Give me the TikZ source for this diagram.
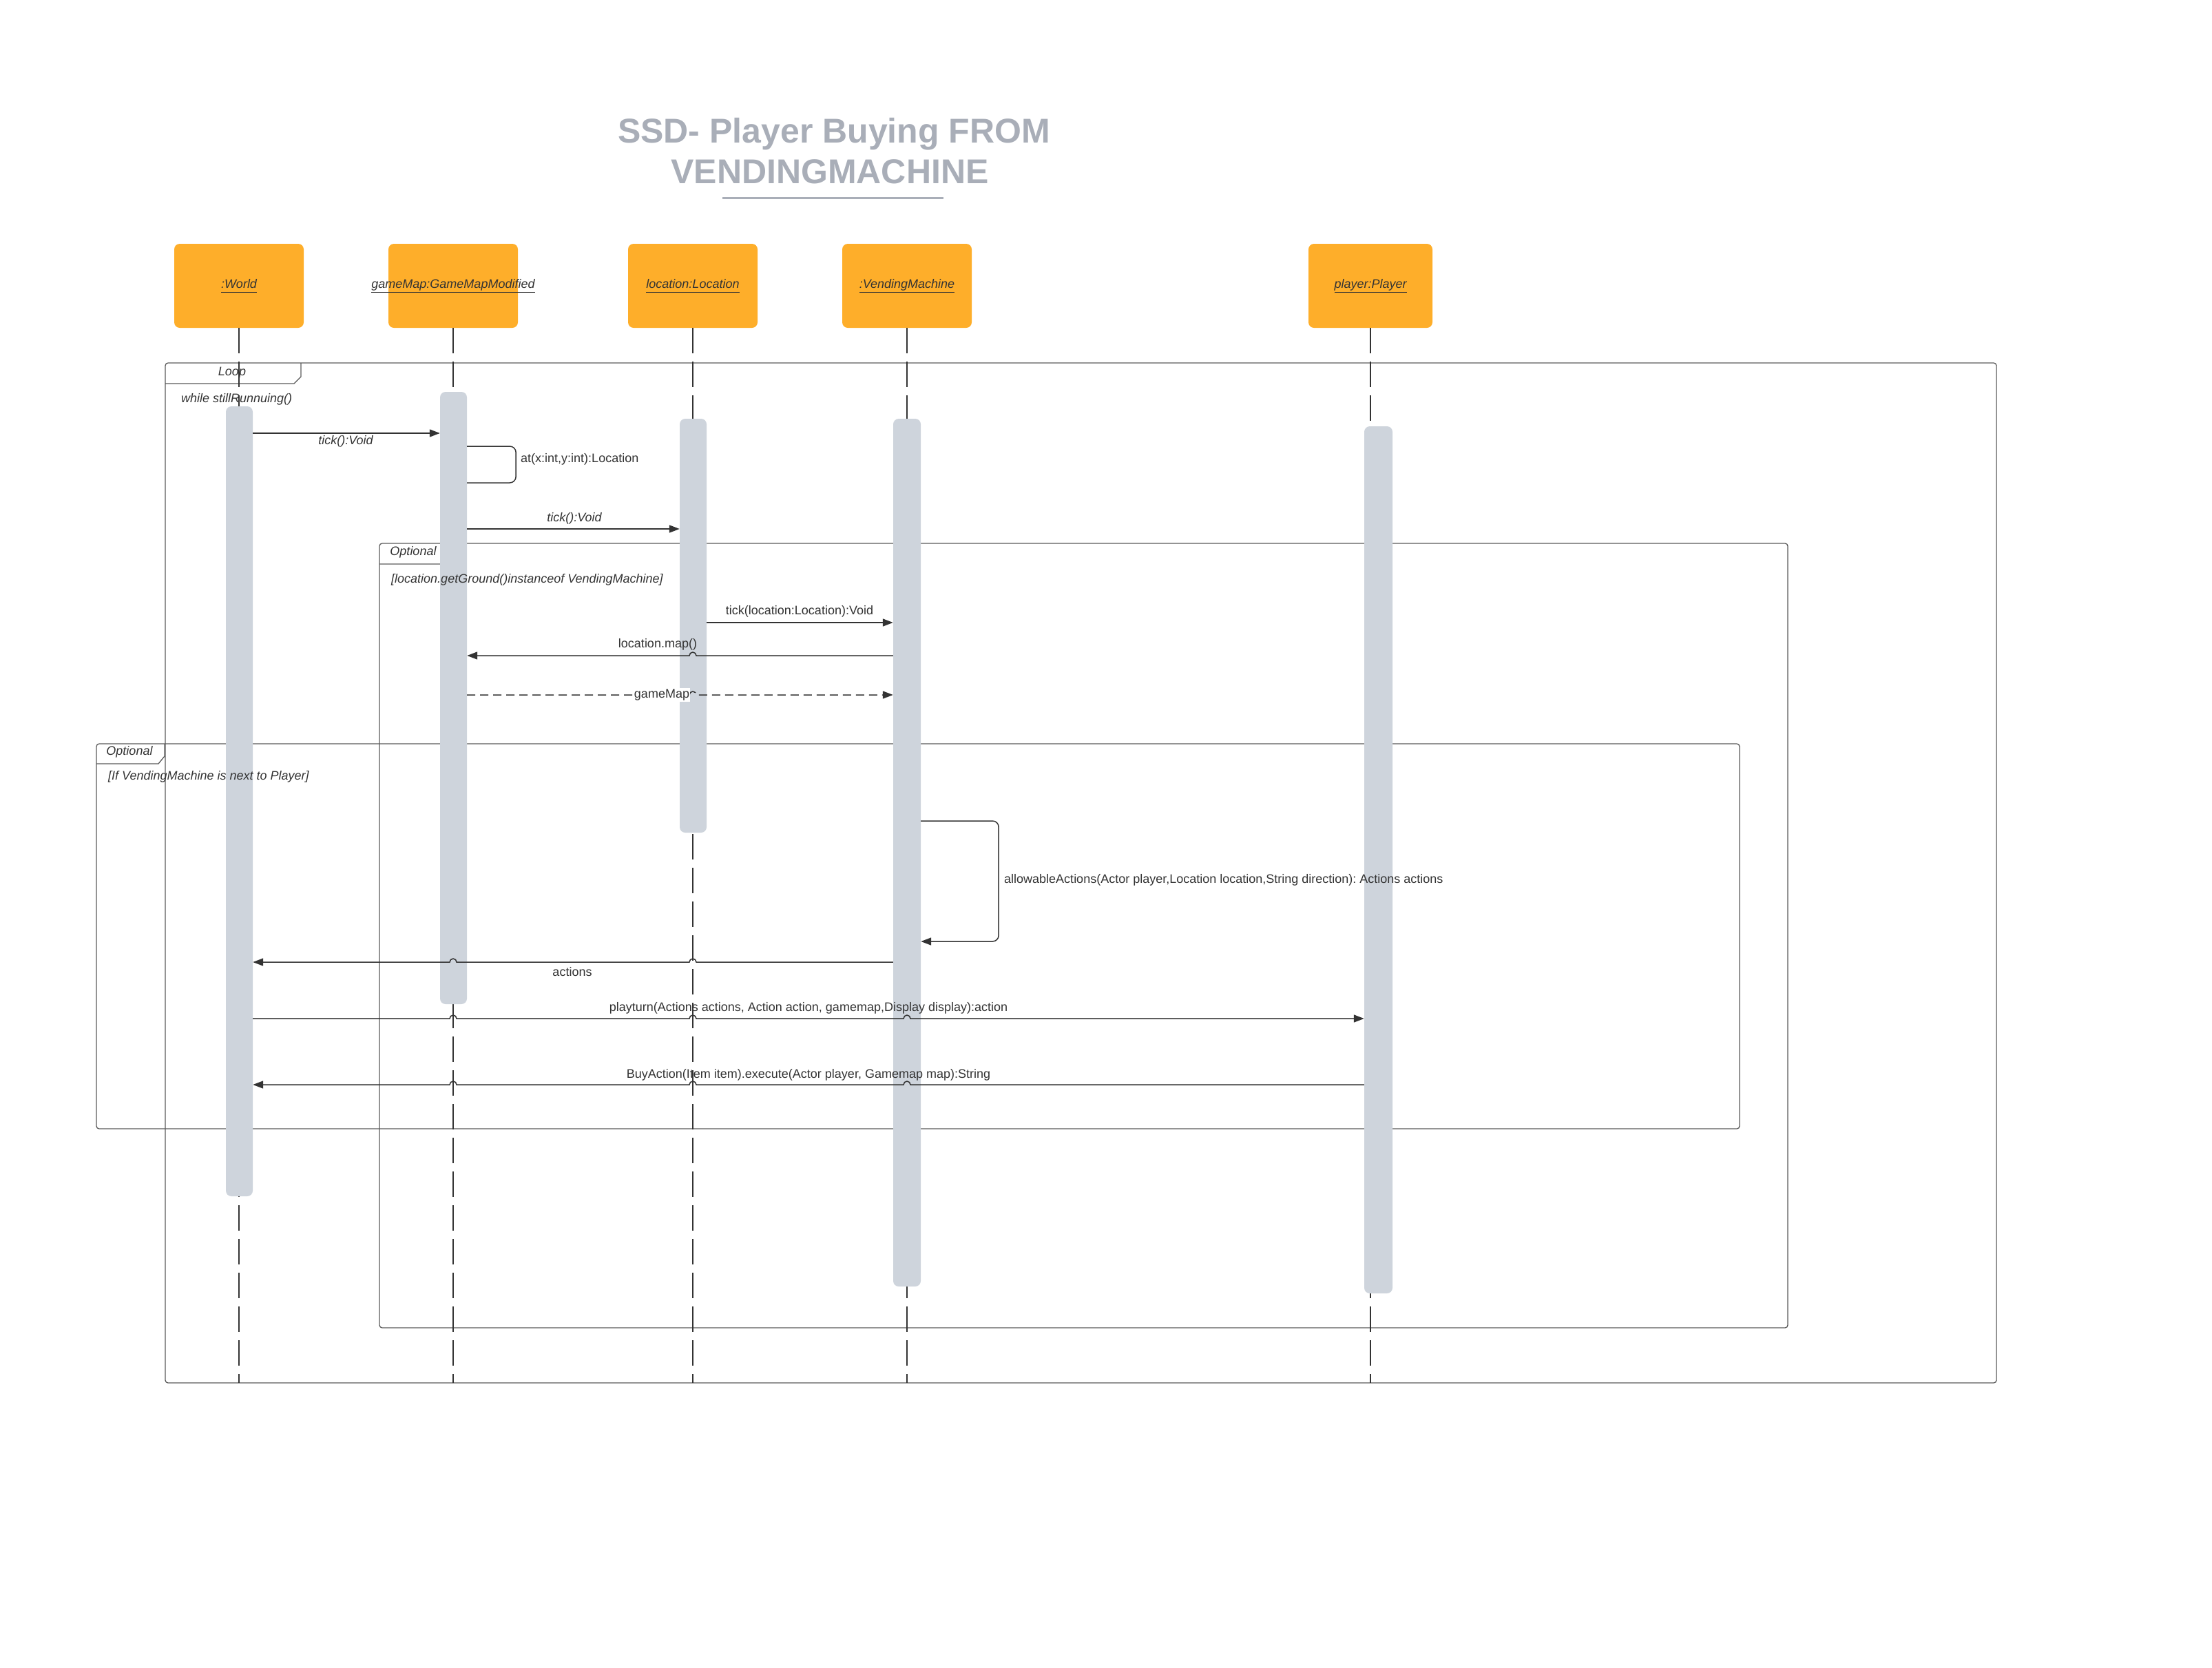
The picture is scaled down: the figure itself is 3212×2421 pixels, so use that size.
\documentclass[tikz,border=0pt]{standalone}
\usepackage{fontspec}
\setmainfont{Liberation Sans}
\usetikzlibrary{arrows.meta}
\definecolor{boxorange}{HTML}{FEAE2A}
\definecolor{barfill}{HTML}{CED4DC}
\definecolor{titlegray}{HTML}{A9AEB8}
\definecolor{ink}{HTML}{333333}
\definecolor{framegray}{HTML}{5A5A5A}
\newcommand\ulbox[1]{\makebox[0pt][c]{\underline{\vphantom{y}#1}}}
\frenchspacing
\begin{document}
\begin{tikzpicture}[x=1pt,y=-1pt,
  lbl/.style={font=\fontsize{18}{22}\selectfont, text=ink, inner sep=0pt},
  ilbl/.style={font=\fontsize{18}{22}\selectfont\itshape, text=ink, inner sep=0pt},
  titletext/.style={font=\fontsize{50}{60}\selectfont\bfseries, text=titlegray, inner sep=0pt},
  objbox/.style={rectangle, rounded corners=8pt, fill=boxorange, minimum width=188pt, minimum height=122pt, inner sep=0pt, font=\fontsize{18}{22}\selectfont\itshape, text=ink},
  actbar/.style={rectangle, rounded corners=8pt, fill=barfill, minimum width=39pt, inner sep=0pt},
  lifeline/.style={draw=ink, line width=1.2pt, dash pattern=on 37pt off 12pt},
  msg/.style={draw=ink, line width=1.5pt, -{Triangle[length=15pt,width=11pt]}},
  selfmsg/.style={draw=ink, line width=1.5pt, rounded corners=9pt},
  frameline/.style={draw=framegray, line width=1.3pt},
]
\useasboundingbox (0,0) rectangle (3212,2421);

% title
\node[titletext, anchor=base] (t1) at (1211,207) {SSD- Player Buying FROM};
\node[titletext, anchor=base] (t2) at (1205,266) {VENDINGMACHINE};
\draw[titlegray, line width=3pt] (1049,287) -- (1370,287);

% frames
\draw[frameline, rounded corners=4pt] (240,527) rectangle (2899,2008);
\draw[frameline] (240,557) -- (427,557) -- (437,547) -- (437,527);
\draw[frameline, rounded corners=4pt] (551,789) rectangle (2596,1928);
\draw[frameline] (551,819) -- (641,819) -- (650,808) -- (650,789);
\draw[frameline, rounded corners=4pt] (140,1080) rectangle (2526,1639);
\draw[frameline] (140,1109) -- (230,1109) -- (239,1098) -- (239,1080);

% object boxes
\node[objbox] (w) at (347,415) {\ulbox{:World}};
\node[objbox] (g) at (658,415) {\ulbox{gameMap:GameMapModified}};
\node[objbox] (l) at (1006,415) {\ulbox{location:Location}};
\node[objbox] (v) at (1317,415) {\ulbox{:VendingMachine}};
\node[objbox, minimum width=180pt] (p) at (1990,415) {\ulbox{player:Player}};

% lifeline ends
\coordinate (yend) at (0,2008);
\draw[lifeline] (w.south) -- (w.south |- yend);
\draw[lifeline] (g.south) -- (g.south |- yend);
\draw[lifeline] (l.south) -- (l.south |- yend);
\draw[lifeline] (v.south) -- (v.south |- yend);
\draw[lifeline] (p.south) -- (p.south |- yend);

% activation bars
\node[actbar, minimum height=1147pt] (wbar) at (347.5,1163.5) {};
\node[actbar, minimum height=889pt] (gbar) at (658.5,1013.5) {};
\node[actbar, minimum height=601pt] (lbar) at (1006.5,908.5) {};
\node[actbar, minimum height=1260pt, minimum width=40pt] (vbar) at (1317,1238) {};
\node[actbar, minimum height=1259pt, minimum width=41pt] (pbar) at (2001.5,1248.5) {};

% message levels
\coordinate (y629) at (0,629);
\coordinate (y648) at (0,648);
\coordinate (y701) at (0,701);
\coordinate (y768) at (0,768);
\coordinate (y904) at (0,904);
\coordinate (y952) at (0,952);
\coordinate (y1009) at (0,1009);
\coordinate (y1192) at (0,1192);
\coordinate (y1367) at (0,1367);
\coordinate (y1397) at (0,1397);
\coordinate (y1479) at (0,1479);
\coordinate (y1575) at (0,1575);

% messages
\draw[msg] (wbar.east |- y629) -- (gbar.west |- y629);
\draw[selfmsg] (gbar.east |- y648) -- ++(71,0) |- (gbar.east |- y701);
\draw[msg] (gbar.east |- y768) -- (lbar.west |- y768);
\draw[msg] (lbar.east |- y904) -- (vbar.west |- y904);
\draw[msg] (vbar.west |- y952) -- (1011,952) arc[start angle=0,end angle=-180,radius=5] -- (gbar.east |- y952);
\draw[msg, dash pattern=on 12pt off 7pt] (gbar.east |- y1009) -- (1001,1009) arc[start angle=-180,end angle=0,radius=5] -- (vbar.west |- y1009);
\draw[selfmsg, -{Triangle[length=15pt,width=11pt]}] (vbar.east |- y1192) -- ++(113,0) |- (vbar.east |- y1367);
\draw[msg] (vbar.west |- y1397) -- (1011,1397) arc[start angle=0,end angle=-180,radius=5]
  -- (663,1397) arc[start angle=0,end angle=-180,radius=5] -- (wbar.east |- y1397);
\draw[msg] (wbar.east |- y1479) -- (653,1479) arc[start angle=-180,end angle=0,radius=5]
  -- (1001,1479) arc[start angle=-180,end angle=0,radius=5]
  -- (1312,1479) arc[start angle=-180,end angle=0,radius=5] -- (pbar.west |- y1479);
\draw[msg] (pbar.west |- y1575) -- (1322,1575) arc[start angle=0,end angle=-180,radius=5]
  -- (1011,1575) arc[start angle=0,end angle=-180,radius=5]
  -- (663,1575) arc[start angle=0,end angle=-180,radius=5] -- (wbar.east |- y1575);

% frame labels
\node[ilbl] (loopl) at (337,541) {Loop};
\node[ilbl, anchor=mid west] (loopg) at (263,582) {while stillRunnuing()};
\node[ilbl] (opt1) at (600,802) {Optional};
\node[ilbl, anchor=mid west] (opt1g) at (568,844) {[location.getGround()instanceof VendingMachine]};
\node[ilbl] (opt2) at (188,1092) {Optional};
\node[ilbl, anchor=mid west] (opt2g) at (157,1130) {[If VendingMachine is next to Player]};

% message labels
\node[ilbl] (m1) at (502,641) {tick():Void};
\node[lbl, anchor=mid west] (m2) at (756,669) {at(x:int,y:int):Location};
\node[ilbl] (m3) at (834,753) {tick():Void};
\node[lbl] (m4) at (1161,888) {tick(location:Location):Void};
\node[lbl] (m5) at (955,936) {location.map()};
\node[lbl, fill=white, inner xsep=1pt, inner ysep=2pt] (m6) at (961,1009) {gameMap};
\node[lbl, anchor=mid west] (m7) at (1458,1280) {allowableActions(Actor player,Location location,String direction): Actions actions};
\node[lbl] (m8) at (831,1411) {actions};
\node[lbl] (m9) at (1174,1464) {playturn(Actions actions, Action action, gamemap,Display display):action};
\node[lbl] (m10) at (1174,1561) {BuyAction(Item item).execute(Actor player, Gamemap map):String};
\end{tikzpicture}
\end{document}
